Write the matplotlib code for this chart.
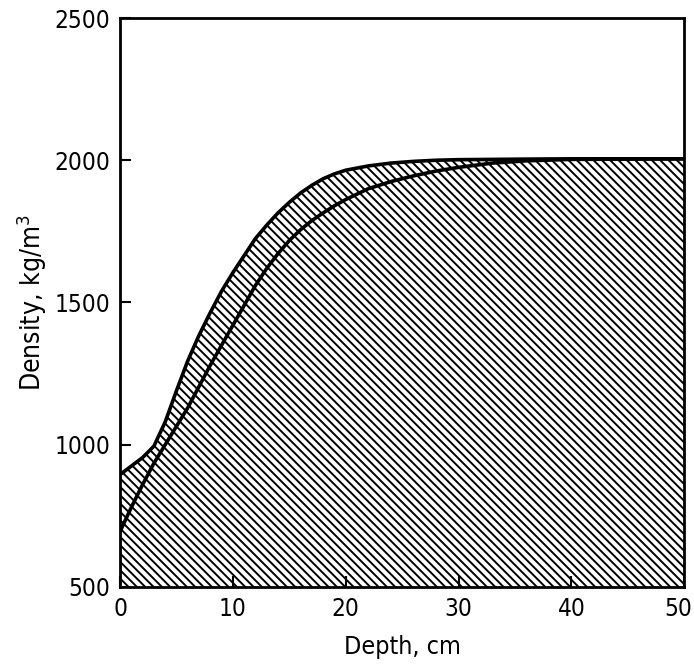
import matplotlib
matplotlib.use("Agg")
import matplotlib.pyplot as plt
import matplotlib.transforms as mtransforms

# values
depth = [0, 1, 2, 3, 4, 5, 6, 7, 8, 9, 10, 11, 12, 13, 14, 15, 16, 17, 18, 19,
         20, 22, 24, 26, 28, 30, 33, 36, 40, 50]
density_upper = [895, 925, 955, 995, 1080, 1190, 1295, 1385, 1465, 1540, 1605,
                 1665, 1725, 1772, 1815, 1852, 1885, 1912, 1935, 1952,
                 1965, 1980, 1990, 1996, 2000, 2002, 2003, 2004, 2005, 2005]
density_lower = [695, 780, 860, 935, 1000, 1065, 1130, 1205, 1280, 1350, 1420,
                 1490, 1560, 1620, 1672, 1718, 1756, 1788, 1815, 1840,
                 1862, 1900, 1925, 1945, 1962, 1975, 1990, 1998, 2003, 2005]

xticks = [0, 10, 20, 30, 40, 50]
yticks = [500, 1000, 1500, 2000, 2500]

plt.rcParams['font.family'] = ['DejaVu Sans']
plt.rcParams['font.stretch'] = 'condensed'
plt.rcParams['hatch.linewidth'] = 1.4

hatch = chr(92) * 4   # dense backslash hatching

fig = plt.figure(figsize=(6.94, 6.67), dpi=100)
ax = fig.add_axes([0.173, 0.12, 0.813, 0.853])

ax.fill_between(depth, 500, density_lower, facecolor='white', edgecolor='black',
                hatch=hatch, linewidth=0)
ax.fill_between(depth, density_lower, density_upper, facecolor='white',
                edgecolor='black', hatch=hatch, linewidth=0)
ax.plot(depth, density_upper, color='black', lw=2.6)
ax.plot(depth, density_lower, color='black', lw=2.6)

ax.set_xlim(0, 50)
ax.set_ylim(500, 2500)
ax.set_xticks(xticks)
ax.set_yticks(yticks)
ax.tick_params(direction='in', length=8, width=1.5, labelsize=17.5, pad=7)
for s in ax.spines.values():
    s.set_linewidth(2)

# nudge the last x label so it stays inside the figure
last = ax.get_xticklabels()[-1]
last.set_transform(last.get_transform() +
                   mtransforms.ScaledTranslation(-4 / 72, 0, fig.dpi_scale_trans))

ax.set_xlabel('Depth, cm', fontsize=18, labelpad=10)
ax.set_ylabel('Density, kg/m$^3$', fontsize=19, labelpad=4)

fig.savefig('out.png', dpi=100)
